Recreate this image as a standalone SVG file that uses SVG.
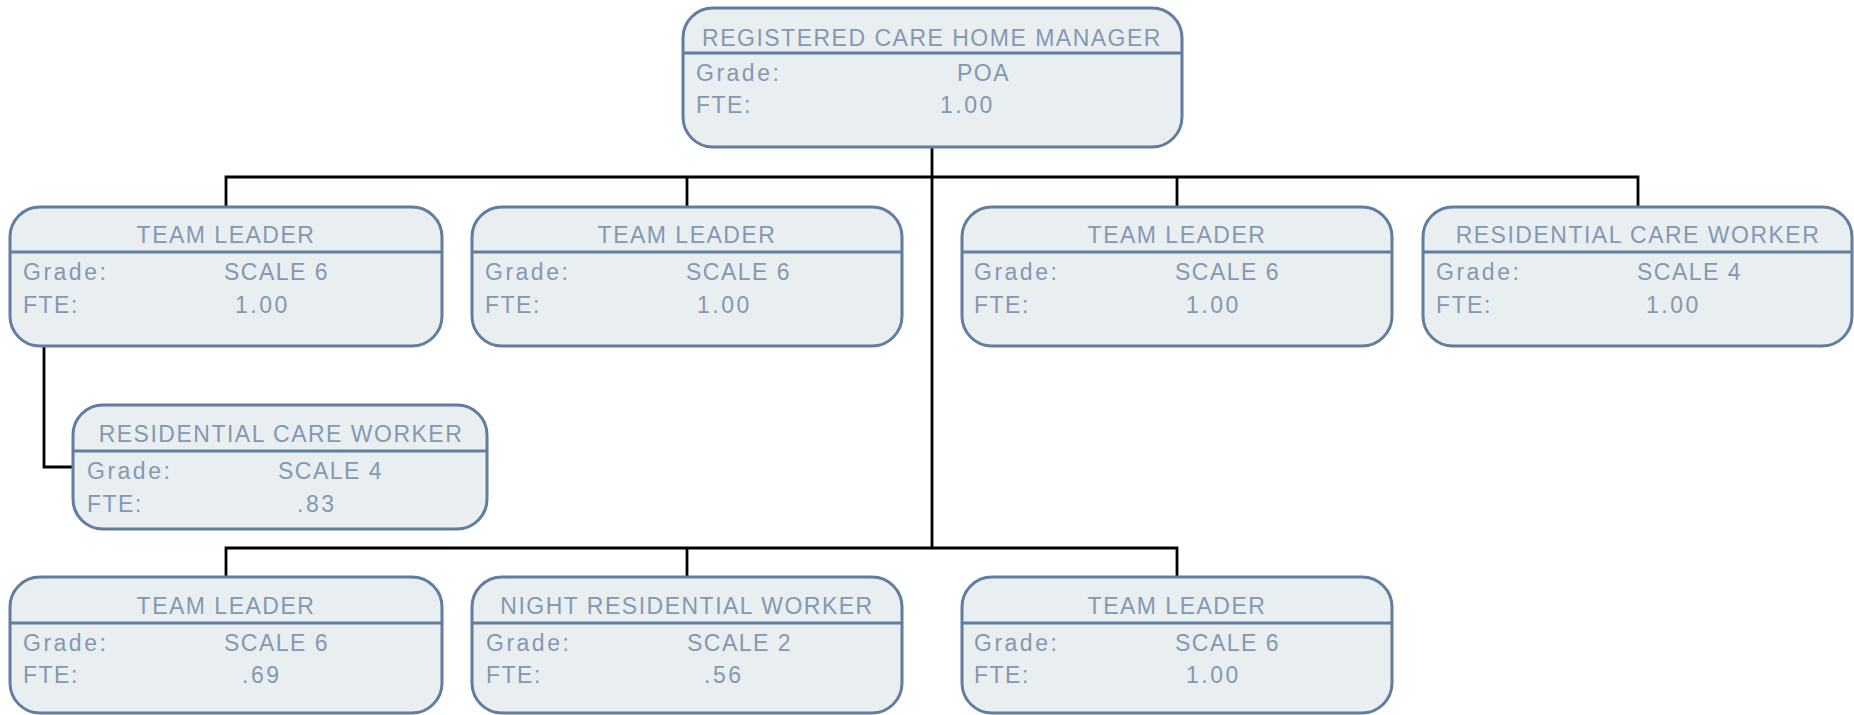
<svg xmlns="http://www.w3.org/2000/svg" width="1854" height="715" viewBox="0 0 1854 715">
<style>
.box{fill:#e9eef1;stroke:#617d9f;stroke-width:3}
.sep{stroke:#617d9f;stroke-width:3}
.t{font-family:"Liberation Sans",Arial,sans-serif;font-size:23px;fill:#8598b1;letter-spacing:1.5px}
.v{letter-spacing:2.5px}
.h{text-anchor:middle}
.c{fill:none;stroke:#000;stroke-width:2.8}
</style>
<rect width="1854" height="715" fill="#fff"/>
<g id="connectors">
<path class="c" d="M932 147V548"/>
<path class="c" d="M226 207V177H1638V207"/>
<path class="c" d="M687 177V207M1177 177V207"/>
<path class="c" d="M44 346V467H73"/>
<path class="c" d="M226 577V548H1177V577M687 548V577"/>
</g>
<g id="root">
<rect class="box" x="683" y="8" width="499" height="139" rx="30"/>
<line class="sep" x1="683" y1="53" x2="1182" y2="53"/>
<text class="t h" x="932" y="46">REGISTERED CARE HOME MANAGER</text>
<text class="t v" x="696" y="81">Grade:</text><text class="t" x="957" y="81">POA</text>
<text class="t" x="696" y="113">FTE:</text><text class="t v" x="940" y="113">1.00</text>
</g>
<g id="tl1">
<rect class="box" x="10" y="207" width="432" height="139" rx="30"/>
<line class="sep" x1="10" y1="252" x2="442" y2="252"/>
<text class="t h" x="226" y="243">TEAM LEADER</text>
<text class="t v" x="23" y="280">Grade:</text><text class="t" x="224" y="280">SCALE 6</text>
<text class="t" x="23" y="313">FTE:</text><text class="t v" x="235" y="313">1.00</text>
</g>
<g id="tl2">
<rect class="box" x="472" y="207" width="430" height="139" rx="30"/>
<line class="sep" x1="472" y1="252" x2="902" y2="252"/>
<text class="t h" x="687" y="243">TEAM LEADER</text>
<text class="t v" x="485" y="280">Grade:</text><text class="t" x="686" y="280">SCALE 6</text>
<text class="t" x="485" y="313">FTE:</text><text class="t v" x="697" y="313">1.00</text>
</g>
<g id="tl3">
<rect class="box" x="962" y="207" width="430" height="139" rx="30"/>
<line class="sep" x1="962" y1="252" x2="1392" y2="252"/>
<text class="t h" x="1177" y="243">TEAM LEADER</text>
<text class="t v" x="974" y="280">Grade:</text><text class="t" x="1175" y="280">SCALE 6</text>
<text class="t" x="974" y="313">FTE:</text><text class="t v" x="1186" y="313">1.00</text>
</g>
<g id="rcw1">
<rect class="box" x="1423" y="207" width="429" height="139" rx="30"/>
<line class="sep" x1="1423" y1="252" x2="1852" y2="252"/>
<text class="t h" x="1638" y="243">RESIDENTIAL CARE WORKER</text>
<text class="t v" x="1436" y="280">Grade:</text><text class="t" x="1637" y="280">SCALE 4</text>
<text class="t" x="1436" y="313">FTE:</text><text class="t v" x="1646" y="313">1.00</text>
</g>
<g id="rcw2">
<rect class="box" x="73" y="405" width="414" height="124" rx="30"/>
<line class="sep" x1="73" y1="451" x2="487" y2="451"/>
<text class="t h" x="281" y="442">RESIDENTIAL CARE WORKER</text>
<text class="t v" x="87" y="479">Grade:</text><text class="t" x="278" y="479">SCALE 4</text>
<text class="t" x="87" y="512">FTE:</text><text class="t v" x="297" y="512">.83</text>
</g>
<g id="tl4">
<rect class="box" x="10" y="577" width="432" height="136" rx="30"/>
<line class="sep" x1="10" y1="623" x2="442" y2="623"/>
<text class="t h" x="226" y="614">TEAM LEADER</text>
<text class="t v" x="23" y="651">Grade:</text><text class="t" x="224" y="651">SCALE 6</text>
<text class="t" x="23" y="683">FTE:</text><text class="t v" x="242" y="683">.69</text>
</g>
<g id="nrw">
<rect class="box" x="472" y="577" width="430" height="136" rx="30"/>
<line class="sep" x1="472" y1="623" x2="902" y2="623"/>
<text class="t h" x="687" y="614">NIGHT RESIDENTIAL WORKER</text>
<text class="t v" x="486" y="651">Grade:</text><text class="t" x="687" y="651">SCALE 2</text>
<text class="t" x="486" y="683">FTE:</text><text class="t v" x="704" y="683">.56</text>
</g>
<g id="tl5">
<rect class="box" x="962" y="577" width="430" height="136" rx="30"/>
<line class="sep" x1="962" y1="623" x2="1392" y2="623"/>
<text class="t h" x="1177" y="614">TEAM LEADER</text>
<text class="t v" x="974" y="651">Grade:</text><text class="t" x="1175" y="651">SCALE 6</text>
<text class="t" x="974" y="683">FTE:</text><text class="t v" x="1186" y="683">1.00</text>
</g>
</svg>
